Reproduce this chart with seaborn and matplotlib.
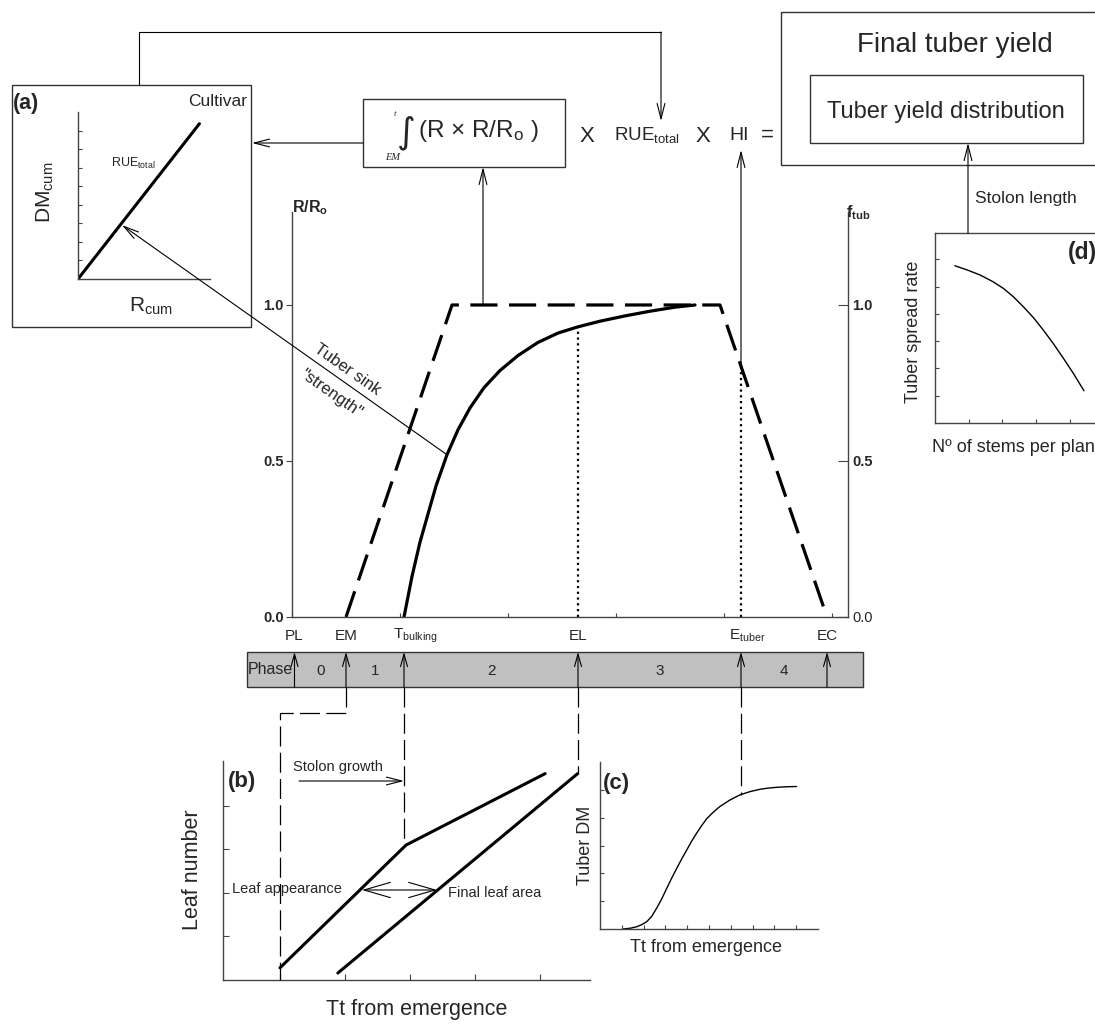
import numpy as np
import pandas as pd
import matplotlib
matplotlib.use("Agg")
import matplotlib.pyplot as plt
import seaborn as sns
from matplotlib.patches import Rectangle

# ---------------- data ----------------
# main panel: crop events on a thermal-time axis (arbitrary Tt units)
event_names = ["PL", "EM", r"T$_{\mathregular{bulking}}$", "EL", r"E$_{\mathregular{tuber}}$", "EC"]
event_tt = [5, 108, 224, 572, 898, 1070]
phase_labels = ["0", "1", "2", "3", "4"]
# dashed: relative radiation interception R/Ro
rr_tt = [108, 320, 856, 1070]
rr_val = [0.0, 1.0, 1.0, 0.0]
# solid: fraction of growth partitioned to tubers f_tub
ftub_tt = [224, 240, 256, 272, 288, 310, 332, 356, 384, 416, 452, 492, 532, 572,
           616, 666, 716, 766, 806]
ftub_val = [0.0, 0.13, 0.24, 0.33, 0.42, 0.52, 0.60, 0.67, 0.735, 0.79, 0.838, 0.88,
            0.91, 0.93, 0.948, 0.965, 0.98, 0.993, 1.0]
main_yticks = [0.0, 0.5, 1.0]
main_yticklabels = ["0.0", "0.5", "1.0"]
# panel (a): cumulative dry matter vs cumulative radiation
a_rcum = [0.0, 0.92]
a_dmcum = [0.0, 0.93]
# panel (b): leaf number vs Tt from emergence
b_app_tt = [1.0, 2.94, 5.08]
b_app_n = [0.28, 3.10, 4.74]
b_area_tt = [1.89, 5.58]
b_area_n = [0.16, 4.74]
# panel (c): tuber DM vs Tt from emergence
c_tt = [1.07, 1.4, 1.68, 1.9, 2.14, 2.37, 2.60, 2.83, 3.06, 3.29, 3.52, 3.75, 3.98, 4.2,
        4.43, 4.66, 4.89, 5.2, 5.5, 5.95, 6.42, 6.9, 7.34, 7.7, 8.1, 8.55, 9.02]
c_dm = [0.0, 0.03, 0.08, 0.15, 0.26, 0.45, 0.75, 1.08, 1.46, 1.83, 2.18, 2.52, 2.84, 3.15,
        3.44, 3.71, 3.96, 4.2, 4.40, 4.63, 4.82, 4.94, 5.02, 5.06, 5.09, 5.11, 5.12]
# panel (d): tuber spread rate vs number of stems per plant
d_stems = [0.59, 0.97, 1.34, 1.7, 2.03, 2.33, 2.62, 2.92, 3.21, 3.51, 3.81, 4.12, 4.42]
d_rate = [5.76, 5.60, 5.42, 5.19, 4.93, 4.62, 4.26, 3.86, 3.41, 2.91, 2.37, 1.79, 1.18]

# ---------------- style ----------------
sns.set_style("ticks")
plt.rcParams["font.family"] = ["Liberation Sans", "DejaVu Sans"]
plt.rcParams["mathtext.fontset"] = "custom"
plt.rcParams["mathtext.rm"] = "Liberation Sans"
plt.rcParams["mathtext.it"] = "Liberation Sans:italic"
plt.rcParams["mathtext.bf"] = "Liberation Sans:bold"
SP = "#444444"

W, H = 1095, 1024
fig = plt.figure(figsize=(W / 100, H / 100), dpi=100)
fig.patch.set_facecolor("white")


def add_ax(x0, y0, x1, y1):
    return fig.add_axes([x0 / W, 1 - y1 / H, (x1 - x0) / W, (y1 - y0) / H])


def style_spines(a, sides=("left", "bottom")):
    for s in ["left", "right", "top", "bottom"]:
        a.spines[s].set_visible(s in sides)
        a.spines[s].set_color(SP)
        a.spines[s].set_linewidth(1.0)
    a.set_facecolor("none")


def line(a, x, y, **kw):
    sns.lineplot(x=x, y=y, ax=a, color="black", estimator=None, sort=False, **kw)


# ---------------- main panel ----------------
ax = add_ax(292, 212, 848, 617)
ax.set_xlim(0, 1112)
ax.set_ylim(0, 1.298)
line(ax, rr_tt, rr_val, lw=2.3, linestyle=(0, (8.5, 3.6)))
line(ax, ftub_tt, ftub_val, lw=2.3)
el_val = np.interp(event_tt[3], ftub_tt, ftub_val)
et_val = np.interp(event_tt[4], rr_tt[2:], rr_val[2:])
ax.plot([event_tt[3]] * 2, [0, el_val], color="black", lw=1.6, linestyle=(0, (1, 1.6)))
ax.plot([event_tt[4]] * 2, [0, et_val], color="black", lw=1.6, linestyle=(0, (1, 1.6)))
style_spines(ax, ("left", "bottom"))
ax.set_xticks([0, 216, 432, 648, 864, 1080])
ax.tick_params(axis="x", direction="in", length=3, labelbottom=False, color=SP)
ax.set_yticks(main_yticks)
ax.set_yticklabels(main_yticklabels, fontweight="bold", fontsize=10.5)
ax.tick_params(axis="y", direction="out", length=4, pad=2, color=SP)
ax.set_xlabel("")
ax.set_ylabel("")
ax2 = ax.twinx()
ax2.set_ylim(0, 1.298)
style_spines(ax2, ("right",))
ax2.set_yticks(main_yticks)
ax2.set_yticklabels(main_yticklabels, fontsize=10.5)
for lab, w in zip(ax2.get_yticklabels(), ["normal", "bold", "bold"]):
    lab.set_fontweight(w)
ax2.tick_params(axis="y", direction="in", length=7, pad=3, color=SP)

# ---------------- panel (a) ----------------
ax_a = add_ax(78, 112, 210, 279)
ax_a.set_xlim(0, 1)
ax_a.set_ylim(0, 1)
line(ax_a, a_rcum, a_dmcum, lw=2.2)
style_spines(ax_a)
ax_a.set_xticks([])
ax_a.set_yticks([k / 9 for k in range(1, 9)])
ax_a.tick_params(axis="y", direction="in", length=3, labelleft=False, color=SP)
ax_a.set_xlabel("")
ax_a.set_ylabel("")

# ---------------- panel (b) ----------------
ax_b = add_ax(223, 761, 590, 980)
ax_b.set_xlim(0.123, 5.77)
ax_b.set_ylim(0, 5.03)
line(ax_b, b_app_tt, b_app_n, lw=2.2)
line(ax_b, b_area_tt, b_area_n, lw=2.2)
style_spines(ax_b)
ax_b.set_xticks([1, 2, 3, 4, 5])
ax_b.set_yticks([1, 2, 3, 4])
ax_b.tick_params(direction="in", length=4, labelleft=False, labelbottom=False, color=SP)
ax_b.set_xlabel("")
ax_b.set_ylabel("")

# ---------------- panel (c) ----------------
ax_c = add_ax(600, 762, 818, 929)
ax_c.set_xlim(0, 10)
ax_c.set_ylim(0, 6)
line(ax_c, c_tt, c_dm, lw=1.0)
style_spines(ax_c)
ax_c.set_xticks(range(1, 10))
ax_c.set_yticks(range(1, 6))
ax_c.tick_params(direction="in", length=3, labelleft=False, labelbottom=False, color=SP)
ax_c.set_xlabel("")
ax_c.set_ylabel("")

# ---------------- panel (d) ----------------
ax_d = add_ax(935, 233, 1130, 423)
ax_d.set_xlim(0, 5.786)
ax_d.set_ylim(0, 6.96)
line(ax_d, d_stems, d_rate, lw=1.0)
style_spines(ax_d, ("left", "bottom", "top", "right"))
ax_d.set_xticks(range(1, 6))
ax_d.set_yticks(range(1, 7))
ax_d.tick_params(direction="in", length=3, labelleft=False, labelbottom=False, color=SP)
ax_d.set_xlabel("")
ax_d.set_ylabel("")

# ---------------- overlay (diagram connectors, boxes, text) ----------------
ov = fig.add_axes([0, 0, 1, 1], zorder=10)
ov.set_xlim(0, W)
ov.set_ylim(H, 0)
ov.axis("off")


def px(a, x, y):
    d = a.transData.transform((x, y))
    return d[0], H - d[1]


ARW = dict(arrowstyle="->,head_length=1.1,head_width=0.28", lw=0.8, color="black",
           shrinkA=0, shrinkB=0)


def arrow(x0, y0, x1, y1, style=None):
    props = dict(ARW)
    if style:
        props["arrowstyle"] = style
    ov.annotate("", xy=(x1, y1), xytext=(x0, y0), arrowprops=props, annotation_clip=False)


def box(x0, y0, x1, y1, fc="none"):
    ov.add_patch(Rectangle((x0, y0), x1 - x0, y1 - y0, fc=fc, ec="#333333", lw=1.0, clip_on=False))


def txt(x, y, s, size, ha="center", va="center", **kw):
    ov.text(x, y, s, fontsize=size, ha=ha, va=va, **kw)


# panel (a) frame and texts
box(12, 85, 251, 327)
txt(13, 103, "(a)", 15.5, ha="left", fontweight="bold")
txt(247, 102, "Cultivar", 12.5, ha="right")
txt(45, 192, r"DM$_{\mathregular{cum}}$", 15, rotation=90)
txt(151, 306, r"R$_{\mathregular{cum}}$", 15)
txt(133, 163, r"RUE$_{\mathregular{total}}$", 9)

# formula box
box(363, 99, 565, 167)
txt(406, 133, "\u222b", 26, family=["DejaVu Sans"])
txt(395, 114, "t", 6.5, family=["Liberation Serif"], style="italic")
txt(393, 157, "EM", 7.5, family=["Liberation Serif"], style="italic")
txt(418, 131, r"(R $\times$ R/R$_{\mathregular{o}}$ )", 17.5, ha="left")
txt(587, 137, "X", 16)
txt(647, 135, r"RUE$_{\mathregular{total}}$", 13.5)
txt(703, 137, "X", 16)
txt(739, 136, "HI", 14)
txt(767, 135, "=", 16)

# final yield boxes
box(781, 12, 1110, 165)
txt(955, 45, "Final tuber yield", 20)
box(810, 75, 1083, 143)
txt(946, 112, "Tuber yield distribution", 17)

# connectors at the top
ov.plot([139, 139, 661], [85, 32, 32], color="black", lw=0.8)
arrow(661, 32, 661, 121)
arrow(363, 143, 252, 143)
xp, yp = px(ax, 382, 1.0)
arrow(xp, yp, xp, 167)
xh, yh = px(ax, event_tt[4], et_val)
arrow(xh, yh, xh, 150)

# tuber sink strength arrow from main curve to panel (a)
ov.annotate("", xy=(0.333, 0.323), xycoords=ax_a.transData,
            xytext=(310, 0.52), textcoords=ax.transData,
            arrowprops=ARW, annotation_clip=False)
txt(347, 369, "Tuber sink", 12, rotation=-35, rotation_mode="anchor")
txt(331, 394, "\"strength\"", 12, rotation=-35, rotation_mode="anchor")

# axis titles of main panel
txt(292, 208, r"R/R$_{\mathbf{o}}$", 11.5, ha="left", fontweight="bold")
txt(846, 213, r"f$_{\mathbf{tub}}$", 11.5, ha="left", fontweight="bold")

# event labels
ev_px = [px(ax, t, 0)[0] for t in event_tt]
for i, (name, x) in enumerate(zip(event_names, ev_px)):
    if i == 2:
        txt(x - 11, 636, name, 11, ha="left")
    elif i == 4:
        txt(x - 12, 636, name, 11, ha="left")
    else:
        txt(x, 636, name, 11)

# phase bar
box(247, 652, 863, 687, fc="#c0c0c0")
txt(248, 670, "Phase", 11.5, ha="left")
for x in ev_px:
    arrow(x, 687, x, 652, style="->,head_length=0.9,head_width=0.25")
for lab, xa, xb in zip(phase_labels, ev_px[:-1], ev_px[1:]):
    txt((xa + xb) / 2, 671, lab, 11)

# dashed connectors below the bar
DL = dict(color="black", lw=0.9, linestyle=(0, (16, 5)))
xb0, yb0 = px(ax_b, b_app_tt[0], 0)
ov.plot([ev_px[1], ev_px[1], xb0, xb0], [687, 713, 713, yb0], **DL)
xk, yk = px(ax_b, b_app_tt[1], b_app_n[1])
ov.plot([ev_px[2], ev_px[2]], [687, yk], **DL)
xe, ye = px(ax_b, b_area_tt[1], b_area_n[1])
ov.plot([ev_px[3], ev_px[3]], [687, ye], **DL)
xc, yc = px(ax_c, c_tt[20], c_dm[20])
ov.plot([ev_px[4], ev_px[4]], [687, yc], **DL)

# panel (b) texts
txt(228, 782, "(b)", 16, ha="left", fontweight="bold")
txt(193, 870, "Leaf number", 15.5, rotation=90)
txt(417, 1010, "Tt from emergence", 15.5)
txt(232, 889, "Leaf appearance", 10.5, ha="left")
txt(448, 893, "Final leaf area", 10.5, ha="left")
txt(293, 767, "Stolon growth", 10.5, ha="left")
arrow(299, 781, ev_px[2], 781)
arrow(362, 890, 437, 890, style="<->,head_length=1.9,head_width=0.55")

# panel (c) texts
txt(603, 783, "(c)", 16, ha="left", fontweight="bold")
txt(585, 845, "Tuber DM", 13, rotation=90)
txt(706, 948, "Tt from emergence", 13)

# panel (d) texts
txt(1068, 252, "(d)", 16.5, ha="left", fontweight="bold")
txt(913, 332, "Tuber spread rate", 13, rotation=90)
txt(932, 448, "N\u00ba of stems per plant", 13, ha="left")
arrow(968, 233, 968, 143)
txt(975, 199, "Stolon length", 12.5, ha="left")

fig.savefig("out.png", dpi=100, facecolor="white")
